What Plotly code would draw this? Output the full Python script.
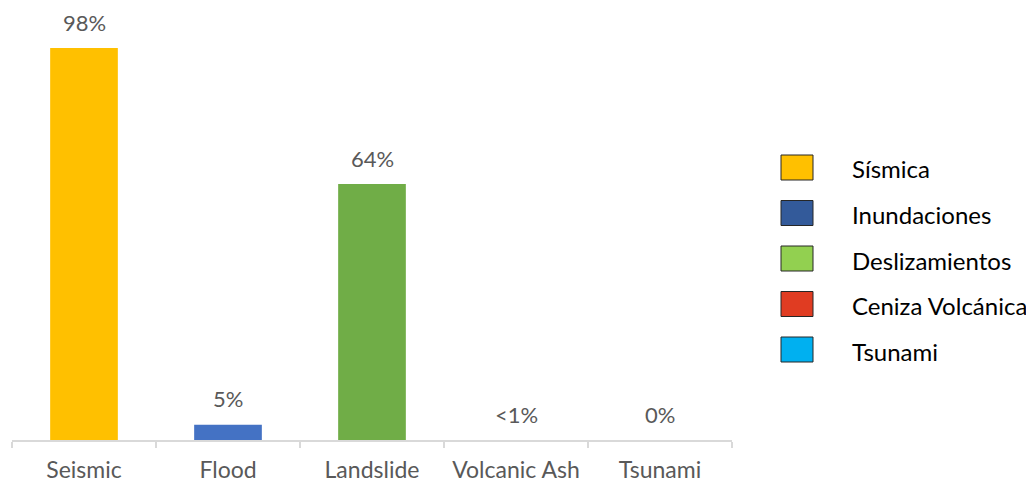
import plotly.graph_objects as go

# ---- data ----
categories = ["Seismic", "Flood", "Landslide", "Volcanic Ash", "Tsunami"]
values = [98, 3.8, 64, 0, 0]
value_labels = ["98%", "5%", "64%", "<1%", "0%"]
bar_colors = ["#FFC000", "#4472C4", "#70AD47", "#E03C22", "#00B0F0"]

legend_names = ["Sísmica", "Inundaciones", "Deslizamientos", "Ceniza Volcánica", "Tsunami"]
legend_colors = ["#FFC000", "#335A9A", "#92D050", "#E03C22", "#00B0F0"]

# page has an 8px body margin; compensate
OFF = 8
W, H = 1034 - OFF, 487 - OFF
L, R, T, B = 12 - OFF, 302, 20 - OFF, 47
plot_w = W - L - R
plot_h = H - T - B

def px_x(X):
    return (X - OFF - L) / plot_w

def px_y(Y):
    return (H - B - (Y - OFF)) / plot_h

FONT = "Lato, Carlito, Calibri, sans-serif"
GRAY = "#595959"

fig = go.Figure()
fig.add_trace(go.Bar(
    x=categories, y=values,
    marker=dict(color=bar_colors, line=dict(width=0)),
    showlegend=False, hoverinfo="skip",
))

annotations = []
for c, v, t in zip(categories, values, value_labels):
    annotations.append(dict(
        x=c, y=v, xref="x", yref="y", text=t, showarrow=False,
        yanchor="middle", yshift=26, borderpad=0,
        font=dict(family=FONT, size=22, color=GRAY),
    ))

shapes = []
row0, step = 155, 45.5
for i, (n, col) in enumerate(zip(legend_names, legend_colors)):
    top = row0 + step * i
    shapes.append(dict(
        type="rect", xref="paper", yref="paper",
        x0=px_x(781), x1=px_x(813), y0=px_y(top + 25), y1=px_y(top),
        fillcolor=col, line=dict(color="#262626", width=1),
    ))
    annotations.append(dict(
        x=px_x(850), y=px_y(top + 14), xref="paper", yref="paper",
        text=n, showarrow=False, xanchor="left", yanchor="middle",
        font=dict(family=FONT, size=24, color="#000000"),
    ))

fig.update_layout(
    width=W, height=H,
    margin=dict(l=L, r=R, t=T, b=B, pad=0),
    paper_bgcolor="white", plot_bgcolor="white",
    bargap=0.53,
    annotations=annotations, shapes=shapes,
    showlegend=False,
    xaxis=dict(
        showline=True, linecolor="#D9D9D9", linewidth=1.5,
        ticks="outside", tickson="boundaries", ticklen=6,
        tickcolor="#D9D9D9", tickwidth=1.5,
        tickfont=dict(family=FONT, size=23, color=GRAY),
        ticklabelstandoff=9,
        showgrid=False, fixedrange=True,
    ),
    yaxis=dict(range=[0, 105], visible=False, showgrid=False, fixedrange=True),
)

fig.write_html("out.html")
